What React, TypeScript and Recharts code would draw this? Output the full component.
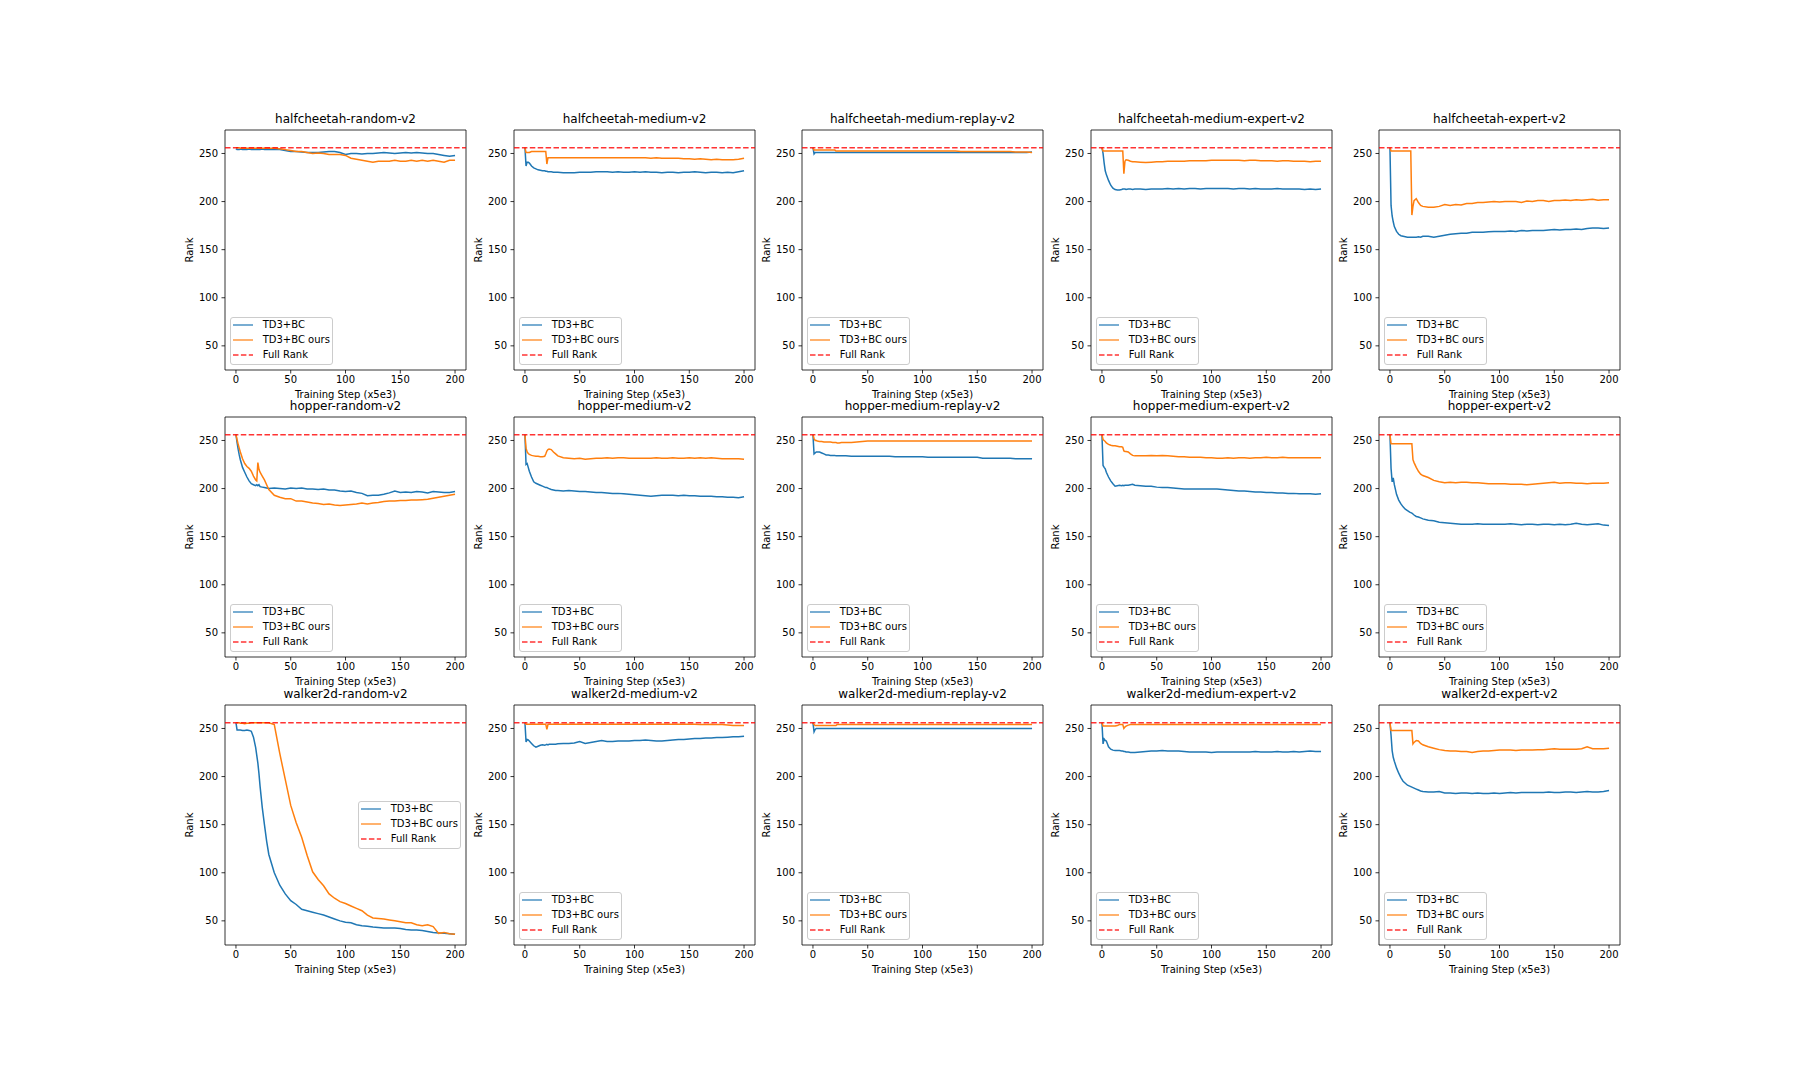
import { LineChart, Line, XAxis, YAxis, ReferenceLine, ReferenceArea } from "recharts";

const steps = [
  0, 1, 2, 3, 4, 6, 8, 10, 12, 14, 16, 18, 19, 20, 21, 22, 24, 26, 28, 30,
  35, 40, 45, 50, 55, 60, 65, 70, 75, 80, 85, 90, 95, 100, 105, 110, 115, 120, 125, 130,
  135, 140, 145, 150, 155, 160, 165, 170, 175, 180, 185, 190, 195, 200,
];

const xTicks = [0, 50, 100, 150, 200];
const yTicks = [50, 100, 150, 200, 250];
const fullRank = 256;

// halfcheetah
const hcRandomTd3 = [
  255, 254, 254, 254, 254.5, 254, 254, 254, 254.5, 254, 254, 254, 254, 254, 254, 254, 254.5, 254, 254, 254,
  254, 254, 253, 252, 252, 251.5, 251, 251, 251, 251.5, 252, 252, 251, 249, 250, 250, 249.5, 250, 250, 250.5,
  251, 250.5, 250, 250.5, 251, 250.5, 251, 250.5, 250, 250, 249, 248, 247, 248,
];
const hcRandomOurs = [
  256, 256, 256, 256, 255.5, 255.5, 255.5, 255.5, 255.5, 255.5, 255.5, 255.5, 255.5, 255.5, 255.5, 255.5, 255.5, 255.5, 255.5, 255.5,
  255.5, 255, 254, 253, 252, 252, 251, 250, 250.5, 250, 249, 249, 249, 248, 245, 244, 243, 242, 241, 242,
  242, 242, 243, 242, 242, 243, 242, 243, 242, 243, 242, 241, 243, 243,
];
const hcMediumTd3 = [
  256, 237, 241, 241, 240, 237, 235, 234, 233, 232.5, 232, 232, 231.5, 231.5, 231, 231, 231, 230.5, 230.5, 230.5,
  230, 230, 230, 230.5, 230.5, 230.5, 231, 231, 231, 230.5, 231, 230.5, 230.5, 231, 230.5, 231, 230.5, 230.5, 230, 230.5,
  230.5, 230, 230.5, 230.5, 231, 230.5, 230, 230.5, 230.5, 230, 230.5, 230, 231, 232,
];
const hcMediumOurs = [
  256, 251, 251, 251, 251, 252, 252, 252, 252, 252, 252, 252, 252, 239, 245.5, 245.5, 245.5, 245.5, 245.5, 245.5,
  245.5, 245.5, 245.5, 245.5, 245.5, 245.5, 245.5, 245.5, 245.5, 245.5, 245.5, 245.5, 245.5, 245.5, 245.5, 245.5, 245, 245.5, 245, 245,
  245, 245, 244.5, 244.5, 244, 244.5, 244, 243.5, 244, 243.5, 243.5, 243.5, 244, 245,
];
const hcMediumReplayTd3 = [
  256, 249.5, 251, 251, 251, 251, 251, 251, 251, 251, 251, 251, 251, 251, 251, 251, 251, 251, 251, 251,
  251, 251, 251, 251, 251, 251, 251, 251, 251, 251, 251, 251, 251, 251, 251, 251, 251, 251, 251, 251,
  251, 251, 251, 251, 251, 251, 251, 251, 251, 251, 251, 251, 251, 251.5,
];
const hcMediumReplayOurs = [
  256, 253.5, 253.5, 253.5, 253.5, 253.5, 253.5, 253.5, 253.5, 253.5, 253.5, 253.5, 253.5, 253.5, 252.5, 252.5, 252.5, 252.5, 252.5, 252.5,
  252.5, 252.5, 252.5, 252.5, 252.5, 252.5, 252.5, 252.5, 252.5, 252.5, 252.5, 252.5, 252.5, 252.5, 252.5, 252.5, 252.5, 252.5, 252.5, 252.5,
  252, 252, 252, 252, 252, 252, 252, 252, 252, 252, 251.5, 251.5, 251.5, 251,
];
const hcMediumExpertTd3 = [
  256, 250, 240, 232, 228, 222, 217, 214, 212.5, 212, 212, 212.5, 213, 213, 213, 212.5, 213, 213, 212.5, 213,
  213, 212.5, 213, 213, 213, 213.5, 213, 213.5, 213, 213.5, 213.5, 213, 213.5, 213.5, 213.5, 213.5, 213.5, 213, 213.5, 213.5,
  213, 213.5, 213, 213, 213, 213.5, 213, 213, 213, 213, 212.5, 213, 212.5, 213,
];
const hcMediumExpertOurs = [
  256, 252.5, 252.5, 252.5, 252.5, 252.5, 252.5, 252.5, 252.5, 252.5, 252.5, 252.5, 252.5, 229, 242, 243.5, 243, 242, 241.5, 241.5,
  241, 240.5, 241, 241.5, 241.5, 242, 242, 242, 242, 242.5, 242.5, 242.5, 242.5, 243, 243, 243, 243, 243, 243, 242.5,
  243, 243, 242.5, 242.5, 242.5, 242, 242.5, 242.5, 242, 242, 242, 241.5, 242, 242,
];
const hcExpertTd3 = [
  256, 196, 185, 179, 174, 169, 166, 164.5, 164, 163.5, 163, 163, 163, 163, 163, 163, 163, 163.5, 163, 164,
  164, 163, 164, 165, 166, 166.5, 167, 167, 168, 168, 168, 168.5, 169, 169, 169, 169.5, 169, 170, 169.5, 170,
  170, 170, 170.5, 171, 170.5, 171, 171, 171.5, 171, 172, 172.5, 172.5, 172, 172.5,
];
const hcExpertOurs = [
  256, 252.5, 252.5, 252.5, 252.5, 252.5, 252.5, 252.5, 252.5, 252.5, 252.5, 252.5, 252.5, 186, 195, 201, 203, 199, 196, 195,
  194, 194, 195, 197, 196, 197, 196.5, 198, 198, 199, 199, 199.5, 200, 199.5, 200, 200, 200, 199, 200.5, 200,
  201, 201, 200, 201, 201, 201.5, 201, 202, 201.5, 202, 202.5, 201.5, 202, 202,
];

// hopper
const hopperRandomTd3 = [
  256, 248, 241, 235, 230, 222, 217, 212, 208, 205, 204, 203, 204, 203, 204, 202, 201.5, 201, 200.5, 200,
  200.5, 200, 199.5, 200.5, 200, 200.5, 199.5, 199.5, 199, 199.5, 198.5, 198.5, 197.5, 197, 197.5, 196, 195, 192.5, 193, 193,
  194, 195.5, 197.5, 196, 196.5, 196, 197, 196.5, 195.5, 197, 196.5, 196, 196, 197,
];
const hopperRandomOurs = [
  256, 251, 246, 242, 238, 231, 226, 223, 221, 218, 213, 209, 208, 227, 220, 217, 213, 209, 204, 199,
  193, 191, 189.5, 189.5, 187, 187, 186, 185, 184.5, 183.5, 184, 183, 182.5, 183, 183.5, 184, 185, 184, 185, 185.5,
  186.5, 187, 187, 187.5, 187.5, 188, 188, 188.5, 189, 190, 191, 192, 193, 194,
];
const hopperMediumTd3 = [
  256, 225, 226, 222, 218, 212, 207, 205.5, 204.5, 203.5, 202.5, 201.5, 201, 201, 200.5, 200, 199, 198.5, 198, 198,
  197.5, 198, 197.5, 197, 197, 196.5, 196, 196, 195.5, 195, 195, 194.5, 194, 193.5, 193, 192.5, 192, 192.5, 193, 193,
  193, 192.5, 193, 192.5, 192.5, 192, 192, 192, 191.5, 191.5, 191, 191, 190.5, 191.5,
];
const hopperMediumOurs = [
  256, 242, 238, 236.5, 235.5, 234.5, 234, 233.5, 233.5, 233, 233, 233.5, 236, 239, 240.5, 241, 240.5, 238, 236, 234,
  232, 231.5, 231, 231.5, 230.5, 231, 231.5, 231.5, 232, 231.5, 232, 232, 231.5, 231.5, 231.5, 231.5, 231.5, 232, 231.5, 231.5,
  232, 231.5, 231.5, 232, 231.5, 232, 231.5, 232, 231.5, 231, 231, 231, 231, 230.5,
];
const hopperMediumReplayTd3 = [
  256, 236, 237, 238, 238, 238, 237, 236, 235, 235, 234.5, 234.5, 234.5, 234.5, 234, 234, 234, 234, 234, 234,
  233.5, 233.5, 233.5, 233.5, 233.5, 233.5, 233.5, 233.5, 233, 233, 233, 233, 233, 233, 232.5, 232.5, 232.5, 232.5, 232.5, 232.5,
  232.5, 232.5, 232.5, 232.5, 231.5, 231.5, 231.5, 231.5, 231.5, 231.5, 231, 231, 231, 231,
];
const hopperMediumReplayOurs = [
  256, 252, 250, 250, 249.5, 249, 249, 248.5, 248.5, 248.5, 248.5, 248, 248, 248, 248, 247.5, 247.5, 248, 248, 248,
  248, 248.5, 249, 249.5, 249.5, 249.5, 249.5, 249.5, 249.5, 249.5, 249.5, 249.5, 249.5, 249.5, 249.5, 249.5, 249.5, 249.5, 249.5, 249.5,
  249.5, 249.5, 249.5, 249.5, 249.5, 249.5, 249.5, 249.5, 249.5, 249.5, 249.5, 249.5, 249.5, 249.5,
];
const hopperMediumExpertTd3 = [
  256, 224, 222, 220.5, 217, 212, 208, 205, 202.5, 203, 203.5, 203, 203.5, 203, 203.5, 203.5, 203.5, 204, 204.5, 203.5,
  203, 202.5, 202.5, 201.5, 201, 201, 200.5, 200, 199.5, 199.5, 199.5, 199.5, 199.5, 199.5, 199.5, 199, 198.5, 198, 197.5, 197.5,
  197, 196.5, 196.5, 196, 196, 195.5, 195.5, 195, 195, 194.5, 194.5, 194.5, 194, 194.5,
];
const hopperMediumExpertOurs = [
  256, 251, 250, 249, 247.5, 246, 245, 244.5, 244.5, 244, 243.5, 243.5, 243, 239, 238.5, 238.5, 238, 236, 234.5, 234,
  234, 234, 234.5, 234, 234.5, 234, 233.5, 233, 233, 232.5, 232.5, 232.5, 232, 232, 231.5, 231.5, 232, 231.5, 232, 232,
  231.5, 232, 232, 232.5, 232, 232, 232.5, 232, 232, 232, 232, 232, 232, 232,
];
const hopperExpertTd3 = [
  256, 221, 207, 211, 204, 194, 188, 184, 181, 178.5, 177, 175.5, 175, 174.5, 173.5, 172.5, 171, 170.5, 169.5, 168.5,
  167, 166.5, 165, 164.5, 164, 163.5, 163, 163, 163, 163.5, 163, 163, 163, 163, 163, 163.5, 163, 162.5, 163, 163,
  162.5, 163, 163, 162.5, 163, 162.5, 163, 164, 163, 162.5, 163, 163.5, 162, 161.5,
];
const hopperExpertOurs = [
  256, 246.5, 246.5, 246.5, 246.5, 246.5, 246.5, 246.5, 246.5, 246.5, 246.5, 246.5, 246.5, 246.5, 230, 227, 222, 218, 215, 213.5,
  211.5, 208.5, 207, 206, 206.5, 206, 206.5, 206.5, 206, 206, 205.5, 205, 205, 205, 205, 204.5, 204.5, 204.5, 204, 204.5,
  205, 205.5, 206, 206.5, 205.5, 206, 206, 205.5, 205.5, 205, 205.5, 205.5, 205.5, 206,
];

// walker2d
const walkerRandomTd3 = [
  256, 248.5, 248.5, 248.5, 248.5, 248, 248, 248.5, 248, 247, 241, 230, 222, 214, 203, 190, 168, 150, 133, 119,
  100, 87, 78, 71, 67, 62, 60.5, 59, 57.5, 56, 54, 52, 50, 48.5, 48, 46, 45, 44.5, 43.5, 43,
  42.5, 42.5, 42.5, 42, 41, 40.5, 40.5, 40, 39, 38, 37.5, 37, 36.5, 36,
];
const walkerRandomOurs = [
  256, 256, 256, 256, 255.5, 255.5, 255, 255.5, 255.5, 256, 256, 256, 256, 256, 256, 256, 256, 256, 256, 256,
  254, 224, 197, 170, 152, 137, 118, 101, 93, 86.5, 78, 73.5, 70, 68, 65.5, 63, 60.5, 56, 53, 52.5,
  52, 51, 50, 49, 48, 48, 46, 45, 46, 44, 37, 38, 36.5, 36,
];
const walkerMediumTd3 = [
  256, 236, 238.5, 238, 237, 234.5, 232, 230.5, 231.5, 232.5, 233, 232.5, 233, 233.5, 233, 233.5, 233.5, 233.5, 233.5, 234,
  234.5, 234.5, 235, 236.5, 234.5, 235.5, 236.5, 237.5, 236.5, 236.5, 237, 237, 237, 237.5, 237.5, 238, 237.5, 237, 237, 237.5,
  238, 238.5, 238.5, 239, 239.5, 239.5, 240, 240, 240.5, 240.5, 241, 241.5, 241.5, 242,
];
const walkerMediumOurs = [
  256, 254.5, 254.5, 254.5, 254.5, 254.5, 254.5, 254.5, 254.5, 254.5, 254.5, 254.5, 254.5, 249, 254, 254.5, 254.5, 254.5, 254.5, 254.5,
  254.5, 254.5, 254.5, 254.5, 254.5, 254.5, 254.5, 254.5, 254.5, 254.5, 254.5, 254.5, 254.5, 254.5, 254.5, 254.5, 254.5, 254.5, 254.5, 254.5,
  254.5, 254.5, 254.5, 254.5, 254.5, 254, 254, 254.5, 254, 254, 253.5, 253, 253, 253,
];
const walkerMediumReplayTd3 = [
  256, 246.5, 249, 250, 250, 250, 250, 250, 250, 250, 250, 250, 250, 250, 250, 250, 250, 250, 250, 250,
  250, 250, 250, 250, 250, 250, 250, 250, 250, 250, 250, 250, 250, 250, 250, 250, 250, 250, 250, 250,
  250, 250, 250, 250, 250, 250, 250, 250, 250, 250, 250, 250, 250, 250,
];
const walkerMediumReplayOurs = [
  256, 254, 253, 253, 253, 253, 253, 253, 253, 253, 253, 253, 253, 253, 253, 254, 254, 254, 254, 254,
  254, 254, 254, 254, 254, 254, 254, 254, 254, 254, 254, 254, 254, 254, 254, 254, 254, 254, 254, 254,
  254, 254, 254, 254, 254, 254, 254, 254, 254, 254, 254, 254, 254, 254,
];
const walkerMediumExpertTd3 = [
  256, 234, 239, 237.5, 237, 231, 228.5, 227.5, 227, 227, 227, 226.5, 226.5, 226, 226, 225.5, 225.5, 225, 225, 225,
  225.5, 226, 226.5, 226.5, 227, 226.5, 226.5, 226.5, 226, 225.5, 225.5, 225.5, 225.5, 225, 225.5, 225.5, 225.5, 225.5, 225.5, 225.5,
  225.5, 226, 225.5, 225.5, 225.5, 226, 225.5, 225.5, 226, 225.5, 226, 226.5, 226, 226,
];
const walkerMediumExpertOurs = [
  256, 252.5, 252.5, 252.5, 252.5, 252.5, 252.5, 252.5, 252.5, 253, 254, 254, 254, 250, 251.5, 252.5, 253.5, 254, 254, 254,
  254, 254, 254, 254, 254, 254, 254, 254, 254, 254, 254, 254, 254, 254, 254, 254, 254, 254, 254, 254,
  254, 254, 254, 254, 254, 254, 254, 254, 254, 254, 254, 254, 254, 254,
];
const walkerExpertTd3 = [
  256, 243, 227, 220, 216, 209, 203.5, 199, 195, 193, 191, 190, 189.5, 189, 188.5, 188, 187, 186, 185, 184.5,
  184, 184, 184.5, 183, 183, 182.5, 183, 183, 182.5, 183, 182.5, 182.5, 183, 182.5, 183, 183.5, 183, 183.5, 183.5, 183.5,
  183.5, 183.5, 184, 183.5, 183.5, 184, 184, 183.5, 184, 184.5, 184, 184, 184.5, 185.5,
];
const walkerExpertOurs = [
  256, 248, 248, 248, 248, 248, 248, 248, 248, 248, 248, 248, 248, 248, 234, 235.5, 237.5, 237, 234.5, 233,
  231, 229.5, 228, 227, 226.5, 226.5, 226, 226, 225, 226, 226.5, 226.5, 227, 227.5, 227.5, 227.5, 227, 227.5, 227.5, 227.5,
  228, 228, 228.5, 229, 228.5, 228.5, 228.5, 228.5, 229, 231, 229, 229, 229, 229.5,
];

const panels = [
  { title: "halfcheetah-random-v2", td3: hcRandomTd3, ours: hcRandomOurs },
  { title: "halfcheetah-medium-v2", td3: hcMediumTd3, ours: hcMediumOurs },
  { title: "halfcheetah-medium-replay-v2", td3: hcMediumReplayTd3, ours: hcMediumReplayOurs },
  { title: "halfcheetah-medium-expert-v2", td3: hcMediumExpertTd3, ours: hcMediumExpertOurs },
  { title: "halfcheetah-expert-v2", td3: hcExpertTd3, ours: hcExpertOurs },
  { title: "hopper-random-v2", td3: hopperRandomTd3, ours: hopperRandomOurs },
  { title: "hopper-medium-v2", td3: hopperMediumTd3, ours: hopperMediumOurs },
  { title: "hopper-medium-replay-v2", td3: hopperMediumReplayTd3, ours: hopperMediumReplayOurs },
  { title: "hopper-medium-expert-v2", td3: hopperMediumExpertTd3, ours: hopperMediumExpertOurs },
  { title: "hopper-expert-v2", td3: hopperExpertTd3, ours: hopperExpertOurs },
  { title: "walker2d-random-v2", td3: walkerRandomTd3, ours: walkerRandomOurs, legendRight: true },
  { title: "walker2d-medium-v2", td3: walkerMediumTd3, ours: walkerMediumOurs },
  { title: "walker2d-medium-replay-v2", td3: walkerMediumReplayTd3, ours: walkerMediumReplayOurs },
  { title: "walker2d-medium-expert-v2", td3: walkerMediumExpertTd3, ours: walkerMediumExpertOurs },
  { title: "walker2d-expert-v2", td3: walkerExpertTd3, ours: walkerExpertOurs },
];

const BLUE = "#1f77b4";
const ORANGE = "#ff7f0e";
const RED = "#ff0000";

const colLefts = [225, 514, 802, 1091, 1379];
const rowTops = [130, 417, 705];
const PW = 241; // plot width
const PH = 240; // plot height
const X_DOMAIN = [-10, 210];
const Y_DOMAIN = [24.9, 274.4];

const legendItems = [
  { label: "TD3+BC", color: BLUE, dash: undefined },
  { label: "TD3+BC ours", color: ORANGE, dash: undefined },
  { label: "Full Rank", color: RED, dash: "5.5 2.4" },
];

const LegendBox = ({ right }: { right?: boolean }) => {
  const pos = right
    ? { left: 60 + PW - 5 - 103, top: 30 + PH / 2 - 24 }
    : { left: 65, top: 30 + PH - 5 - 48 };
  return (
    <div
      style={{
        position: "absolute",
        ...pos,
        width: 103,
        height: 48,
        boxSizing: "border-box",
        border: "1px solid #cccccc",
        borderRadius: 3,
        background: "rgba(255,255,255,0.8)",
      }}
    >
      {legendItems.map((it, i) => (
        <div key={it.label} style={{ position: "absolute", left: 0, top: 1.3 + 15 * i, height: 12, width: 100 }}>
          <svg width={22} height={12} style={{ position: "absolute", left: 2.3, top: 0 }}>
            <line x1={0} x2={20} y1={6} y2={6} stroke={it.color} strokeOpacity={0.8} strokeWidth={1.5} strokeDasharray={it.dash} />
          </svg>
          <span style={{ position: "absolute", left: 31.7, top: 0, fontSize: 10, lineHeight: "12px", whiteSpace: "nowrap" }}>
            {it.label}
          </span>
        </div>
      ))}
    </div>
  );
};

const Panel = ({ title, td3, ours, legendRight, left, top }: any) => {
  const data = steps.map((s, i) => ({ step: s, td3: td3[i], ours: ours[i] }));
  return (
    <div style={{ position: "absolute", left: left - 60, top: top - 30, width: 60 + PW + 10, height: 30 + PH + 45 }}>
      {/* title */}
      <div style={{ position: "absolute", left: 60, top: 13, width: PW, textAlign: "center", fontSize: 12, lineHeight: "12px", whiteSpace: "nowrap" }}>
        {title}
      </div>
      <LineChart width={60 + PW + 10} height={30 + PH + 45} data={data} margin={{ top: 30, right: 10, bottom: 15, left: 0 }}>
        <XAxis
          type="number"
          dataKey="step"
          domain={X_DOMAIN}
          ticks={xTicks}
          interval={0}
          allowDataOverflow
          height={30}
          axisLine={false}
          tickSize={3.5}
          tickMargin={2}
          tickLine={{ stroke: "#000", strokeWidth: 0.8 }}
          tick={{ fontSize: 10, fill: "#000" }}
          label={{ value: "Training Step (x5e3)", position: "insideBottom", offset: 2, style: { fontSize: 10, fill: "#000" } }}
        />
        <YAxis
          type="number"
          domain={Y_DOMAIN}
          ticks={yTicks}
          interval={0}
          allowDataOverflow
          width={60}
          axisLine={false}
          tickSize={3.5}
          tickMargin={3.5}
          tickLine={{ stroke: "#000", strokeWidth: 0.8 }}
          tick={{ fontSize: 10, fill: "#000" }}
          label={{ value: "Rank", angle: -90, position: "insideLeft", offset: 24, style: { fontSize: 10, fill: "#000", textAnchor: "middle" } }}
        />
        <ReferenceArea
          x1={X_DOMAIN[0]}
          x2={X_DOMAIN[1]}
          y1={Y_DOMAIN[0]}
          y2={Y_DOMAIN[1]}
          fill="none"
          stroke="#000"
          strokeWidth={0.8}
          ifOverflow="visible"
        />
        <Line type="linear" dataKey="td3" stroke={BLUE} strokeWidth={1.5} dot={false} activeDot={false} isAnimationActive={false} />
        <Line type="linear" dataKey="ours" stroke={ORANGE} strokeWidth={1.5} dot={false} activeDot={false} isAnimationActive={false} />
        <ReferenceLine y={fullRank} stroke={RED} strokeOpacity={0.8} strokeWidth={1.5} strokeDasharray="5.5 2.4" />
      </LineChart>
      <LegendBox right={legendRight} />
    </div>
  );
};

export default function App() {
  return (
    <div
      style={{
        position: "absolute",
        left: 0,
        top: 0,
        width: 1800,
        height: 1080,
        background: "#fff",
        fontFamily: '"DejaVu Sans", sans-serif',
        color: "#000",
      }}
    >
      {panels.map((p, i) => (
        <Panel key={p.title} {...p} left={colLefts[i % 5]} top={rowTops[Math.floor(i / 5)]} />
      ))}
    </div>
  );
}
